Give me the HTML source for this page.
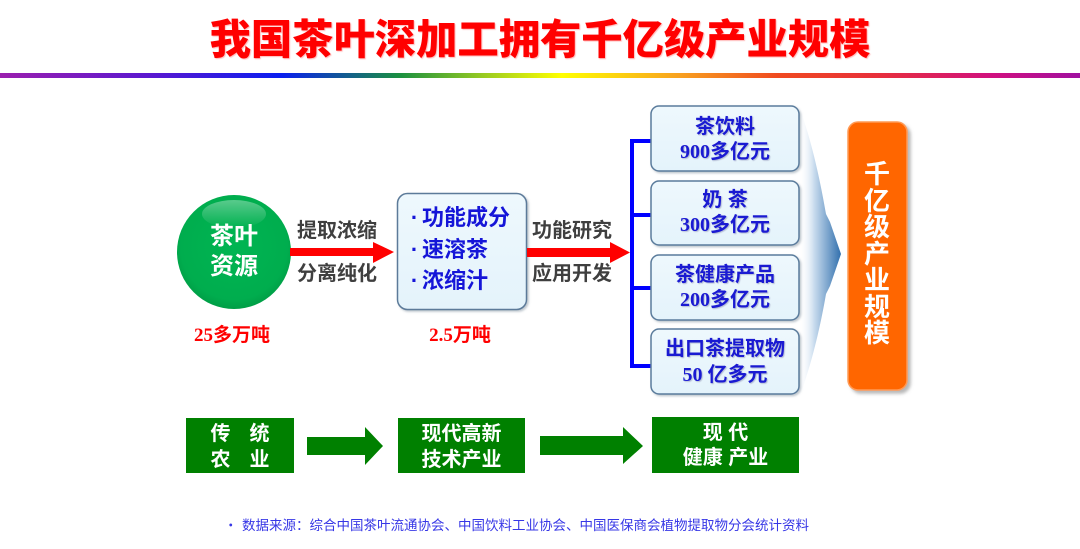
<!DOCTYPE html>
<html>
<head>
<meta charset="utf-8">
<style>
  html,body{margin:0;padding:0;background:#fff;}
  #wrap{position:relative;width:1080px;height:549px;overflow:hidden;background:#fff;}
  svg{position:absolute;left:0;top:0;}
  .t{position:absolute;white-space:nowrap;text-align:center;font-family:"Liberation Sans","Noto Sans CJK SC",sans-serif;font-weight:bold;}
  .n{font-family:"Liberation Serif","Noto Sans CJK SC",serif;}
  .rb{width:200px;font-size:20px;line-height:20px;color:#1a1ad2;text-shadow:1px 1px 1px rgba(90,90,140,0.35);}
  .gl{width:200px;font-size:20px;line-height:20px;color:#3f3f3f;}
  .gw{width:200px;font-size:20px;line-height:20px;color:#fff;}
  .bl{font-size:22px;line-height:22px;color:#1515d8;text-align:left;}
</style>
</head>
<body>
<div id="wrap">
<svg width="1080" height="549" viewBox="0 0 1080 549" xmlns="http://www.w3.org/2000/svg">
  <defs>
    <linearGradient id="rain" x1="0" y1="0" x2="1080" y2="0" gradientUnits="userSpaceOnUse">
      <stop offset="0" stop-color="#9b1fae"/>
      <stop offset="0.14" stop-color="#5a18d0"/>
      <stop offset="0.26" stop-color="#0a1ef0"/>
      <stop offset="0.37" stop-color="#1a9040"/>
      <stop offset="0.45" stop-color="#9ccc20"/>
      <stop offset="0.52" stop-color="#ffff00"/>
      <stop offset="0.63" stop-color="#f8a020"/>
      <stop offset="0.72" stop-color="#f04a20"/>
      <stop offset="0.81" stop-color="#e8303a"/>
      <stop offset="0.92" stop-color="#d01080"/>
      <stop offset="1" stop-color="#a010a0"/>
    </linearGradient>
    <radialGradient id="circ" cx="0.5" cy="0.45" r="0.55">
      <stop offset="0" stop-color="#00b552"/>
      <stop offset="0.85" stop-color="#00ad4e"/>
      <stop offset="1" stop-color="#009e46"/>
    </radialGradient>
    <linearGradient id="gloss" x1="0" y1="0" x2="0" y2="1">
      <stop offset="0" stop-color="#ffffff" stop-opacity="0.35"/>
      <stop offset="1" stop-color="#ffffff" stop-opacity="0"/>
    </linearGradient>
    <linearGradient id="chev" x1="799" y1="0" x2="842" y2="0" gradientUnits="userSpaceOnUse">
      <stop offset="0" stop-color="#ffffff" stop-opacity="0"/>
      <stop offset="0.35" stop-color="#c9dcee"/>
      <stop offset="1" stop-color="#2c6cab"/>
    </linearGradient>
    <linearGradient id="box" x1="0" y1="0" x2="0" y2="1">
      <stop offset="0" stop-color="#eef8fd"/>
      <stop offset="1" stop-color="#e4f3fb"/>
    </linearGradient>
    <filter id="sh" x="-10%" y="-10%" width="130%" height="130%">
      <feDropShadow dx="1.5" dy="1.5" stdDeviation="1" flood-color="#7a8a9a" flood-opacity="0.5"/>
    </filter>
    <filter id="sh2" x="-20%" y="-10%" width="150%" height="130%">
      <feDropShadow dx="3" dy="3" stdDeviation="1.5" flood-color="#888" flood-opacity="0.6"/>
    </filter>
  </defs>

  <rect x="0" y="73" width="1080" height="5" fill="url(#rain)"/>

  <circle cx="234" cy="252" r="57" fill="url(#circ)"/>
  <ellipse cx="234" cy="214" rx="32" ry="14" fill="url(#gloss)"/>

  <rect x="290" y="248" width="84" height="8" fill="#ff0000"/>
  <polygon points="373,242 394,252 373,263" fill="#ff0000"/>

  <rect x="397.5" y="193.5" width="129" height="116" rx="10" ry="10" fill="url(#box)" stroke="#5b7a99" stroke-width="1.5" filter="url(#sh)"/>

  <rect x="527" y="248" width="85" height="9" fill="#ff0000"/>
  <polygon points="610,242 630,252.5 610,263" fill="#ff0000"/>

  <rect x="630" y="139" width="4" height="229" fill="#0000ff"/>
  <rect x="630" y="139" width="21" height="4" fill="#0000ff"/>
  <rect x="630" y="213" width="21" height="4" fill="#0000ff"/>
  <rect x="630" y="286" width="21" height="4" fill="#0000ff"/>
  <rect x="630" y="364" width="21" height="4" fill="#0000ff"/>

  <path d="M 798 104 C 812 140, 821 185, 826 214 L 830 222 L 841 254 L 830 286 L 826 294 C 821 323, 812 365, 798 400 Z" fill="url(#chev)"/>

  <rect x="651" y="106" width="148" height="65" rx="8" ry="8" fill="url(#box)" stroke="#5a7b9c" stroke-width="1.5" filter="url(#sh)"/>
  <rect x="651" y="181" width="148" height="64" rx="8" ry="8" fill="url(#box)" stroke="#5a7b9c" stroke-width="1.5" filter="url(#sh)"/>
  <rect x="651" y="255" width="148" height="65" rx="8" ry="8" fill="url(#box)" stroke="#5a7b9c" stroke-width="1.5" filter="url(#sh)"/>
  <rect x="651" y="329" width="148" height="65" rx="8" ry="8" fill="url(#box)" stroke="#5a7b9c" stroke-width="1.5" filter="url(#sh)"/>

  <rect x="848" y="122" width="59" height="268" rx="10" ry="10" fill="#ff6600" stroke="#ff9a55" stroke-width="1.5" filter="url(#sh2)"/>

  <rect x="186" y="418" width="108" height="55" fill="#008000"/>
  <rect x="398" y="418" width="127" height="55" fill="#008000"/>
  <rect x="652" y="417" width="147" height="56" fill="#008000"/>

  <polygon points="307,437 365,437 365,427 383,446 365,465 365,455 307,455" fill="#008000"/>
  <polygon points="540,436 623,436 623,427 643,446 623,464 623,455 540,455" fill="#008000"/>
</svg>

<div class="t" style="left:0;width:1080px;top:16px;font-size:41.3px;line-height:41px;color:#ff0000;font-family:'Noto Sans CJK SC','WenQuanYi Zen Hei',sans-serif;font-weight:900;text-shadow:1px 1px 1px rgba(255,120,120,0.5);">我国茶叶深加工拥有千亿级产业规模</div>

<div class="t" style="left:134px;width:200px;top:225px;font-size:24px;line-height:24px;color:#fff;">茶叶</div>
<div class="t" style="left:134px;width:200px;top:255px;font-size:24px;line-height:24px;color:#fff;">资源</div>

<div class="t gl" style="left:237px;top:221px;">提取浓缩</div>
<div class="t gl" style="left:237px;top:264px;">分离纯化</div>
<div class="t gl" style="left:472px;top:221px;">功能研究</div>
<div class="t gl" style="left:472px;top:264px;">应用开发</div>

<div class="t bl" style="left:407px;top:207px;"><span style="display:inline-block;width:15px;text-align:center;">·</span>功能成分</div>
<div class="t bl" style="left:407px;top:239px;"><span style="display:inline-block;width:15px;text-align:center;">·</span>速溶茶</div>
<div class="t bl" style="left:407px;top:270px;"><span style="display:inline-block;width:15px;text-align:center;">·</span>浓缩汁</div>

<div class="t n" style="left:132px;width:200px;top:326px;font-size:19px;line-height:20px;color:#ff0000;">25多万吨</div>
<div class="t n" style="left:360px;width:200px;top:326px;font-size:19px;line-height:20px;color:#ff0000;">2.5万吨</div>

<div class="t rb" style="left:625px;top:117px;">茶饮料</div>
<div class="t rb n" style="left:625px;top:142px;">900多亿元</div>
<div class="t rb" style="left:625px;top:190px;">奶 茶</div>
<div class="t rb n" style="left:625px;top:215px;">300多亿元</div>
<div class="t rb" style="left:625px;top:265px;">茶健康产品</div>
<div class="t rb n" style="left:625px;top:290px;">200多亿元</div>
<div class="t rb" style="left:625px;top:339px;">出口茶提取物</div>
<div class="t rb n" style="left:625px;top:365px;">50 亿多元</div>

<div class="t" style="left:847px;width:60px;top:161px;font-size:26px;line-height:26.5px;color:#fff;">千<br>亿<br>级<br>产<br>业<br>规<br>模</div>

<div class="t gw" style="left:140px;top:424px;">传<span style="display:inline-block;width:19px;"></span>统</div>
<div class="t gw" style="left:140px;top:450px;">农<span style="display:inline-block;width:19px;"></span>业</div>
<div class="t gw" style="left:361.5px;top:424px;">现代高新</div>
<div class="t gw" style="left:361.5px;top:450px;">技术产业</div>
<div class="t gw" style="left:625.5px;top:423px;">现 代</div>
<div class="t gw" style="left:625.5px;top:448px;">健康 产业</div>

<div class="t" style="left:224px;top:516px;font-size:13.5px;line-height:16px;color:#3737e6;font-weight:normal;text-align:left;font-family:'Noto Sans CJK SC',sans-serif;"><span style="display:inline-block;width:18px;">•</span>数据来源：综合中国茶叶流通协会、中国饮料工业协会、中国医保商会植物提取物分会统计资料</div>
</div>
</body>
</html>
